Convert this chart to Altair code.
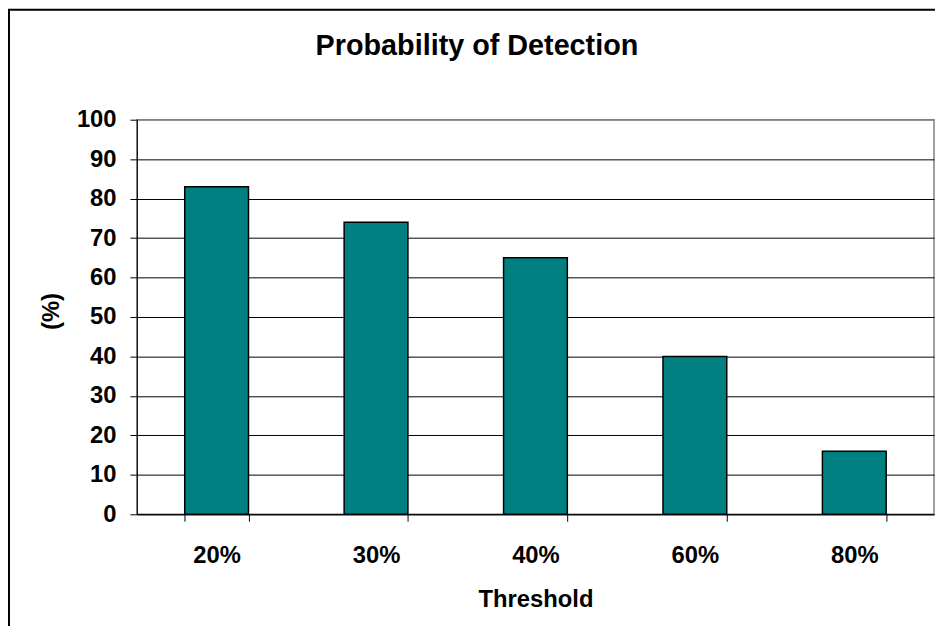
import altair as alt
import pandas as pd

thresholds = ["20%", "30%", "40%", "60%", "80%"]
detection = [83, 74, 65, 40, 16]

df = pd.DataFrame({"Threshold": thresholds, "Detection": detection})

FONT = "Liberation Sans"
W, H = 804, 398

bars = alt.Chart(df).mark_bar(
    color="#008080", stroke="#000000", strokeWidth=1.5
).encode(
    x=alt.X(
        "Threshold:N",
        sort=thresholds,
        scale=alt.Scale(paddingInner=0.6, paddingOuter=0.3),
        axis=alt.Axis(
            title="Threshold",
            labelAngle=0,
            labelFont=FONT, labelFontSize=24, labelFontWeight="bold", labelColor="black",
            labelPadding=23,
            tickBand="extent", tickSize=7, tickColor="black", tickWidth=1,
            domainColor="black", domainWidth=1,
            titleFont=FONT, titleFontSize=24, titleFontWeight="bold", titleColor="black",
            titlePadding=20,
            grid=False,
        ),
    ),
    y=alt.Y(
        "Detection:Q",
        scale=alt.Scale(domain=[0, 100]),
        axis=alt.Axis(
            title="(%)",
            values=list(range(0, 101, 10)),
            labelFont=FONT, labelFontSize=24, labelFontWeight="bold", labelColor="black",
            labelPadding=14,
            tickSize=7, tickColor="black", tickWidth=1,
            domainColor="black", domainWidth=1,
            grid=True,
            gridColor={"condition": {"test": "datum.value >= 100", "value": "#808080"}, "value": "#000000"},
            gridWidth=1,
            titleFont=FONT, titleFontSize=24, titleFontWeight="bold", titleColor="black",
            titleAngle=270, titleX=-86, titleY=H / 2 - 6, titleAlign="center", titleBaseline="middle",
        ),
    ),
)

frame_df = pd.DataFrame({"k": [0]})
frame = alt.Chart(frame_df).mark_rect(
    fill=None, stroke="black", strokeWidth=2, clip=False
).encode(
    x=alt.value(-129), x2=alt.value(W + 40),
    y=alt.value(-111), y2=alt.value(H + 200),
)

chart = alt.layer(frame, bars).properties(
    width=W,
    height=H,
    padding={"left": 130, "top": 110, "right": 1, "bottom": 110},
    autosize=alt.AutoSizeParams(type="none"),
    background="white",
    title=alt.TitleParams(
        "Probability of Detection",
        font=FONT, fontSize=29, fontWeight="bold", color="black",
        anchor="middle", frame="group", dx=-59, offset=0, dy=53,
    ),
).configure_view(
    stroke="#808080", strokeWidth=1.5
)

chart.save("out.html", embed_options={"renderer": "svg", "actions": False})
